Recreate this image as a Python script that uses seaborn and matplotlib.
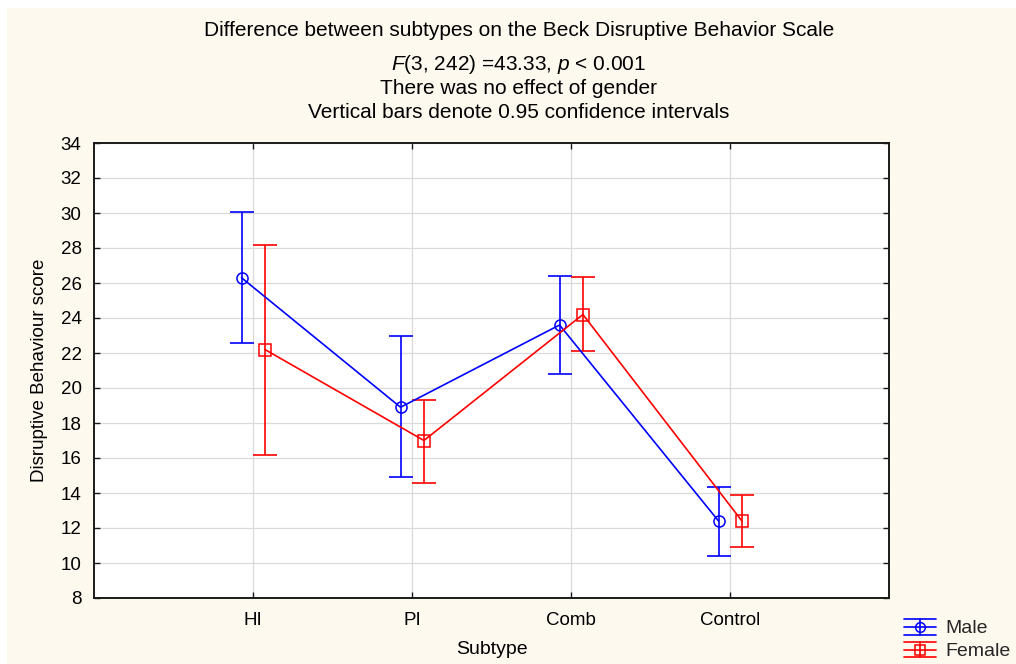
import matplotlib
matplotlib.use("Agg")
import matplotlib.pyplot as plt
import numpy as np
import pandas as pd
import seaborn as sns
from matplotlib.legend_handler import HandlerBase
from matplotlib.lines import Line2D
from matplotlib.patches import Rectangle

# Data: group means and 95% confidence limits
subtypes = ["HI", "PI", "Comb", "Control"]
male_mean = [26.3, 18.9, 23.6, 12.4]
male_low = [22.6, 14.9, 20.8, 10.4]
male_high = [30.05, 23.0, 26.4, 14.35]
female_mean = [22.2, 17.0, 24.2, 12.4]
female_low = [16.2, 14.6, 22.1, 10.9]
female_high = [28.2, 19.3, 26.35, 13.9]
y_ticks = list(range(8, 35, 2))

sns.set_theme(style="white")
plt.rcParams["font.family"] = ["Liberation Sans", "DejaVu Sans"]
plt.rcParams["mathtext.fontset"] = "custom"
plt.rcParams["mathtext.rm"] = "Liberation Sans"
plt.rcParams["mathtext.it"] = "Liberation Sans:italic"

BG = "#FEF9EE"
BLUE = "#0000FF"
RED = "#FF0000"

fig = plt.figure(figsize=(10.16, 6.64), dpi=100, facecolor="white")
fig.patches.append(Rectangle((7 / 1016, 0), 1 - 7 / 1016, 1 - 8 / 664,
                             transform=fig.transFigure, facecolor=BG,
                             edgecolor="none", zorder=-10))

ax = fig.add_axes([94 / 1016, 66 / 664, 795 / 1016, 455 / 664])
ax.set_facecolor("white")

offsets = {"Male": -0.072, "Female": 0.075}
rows = []
for g, m, lo, hi in (("Male", male_mean, male_low, male_high),
                     ("Female", female_mean, female_low, female_high)):
    for i, s in enumerate(subtypes):
        rows.append({"Gender": g, "Subtype": s, "x": i + offsets[g],
                     "score": m[i], "low": lo[i], "high": hi[i]})
df = pd.DataFrame(rows)

palette = {"Male": BLUE, "Female": RED}
markers = {"Male": "o", "Female": "s"}

for g in ["Male", "Female"]:
    d = df[df["Gender"] == g]
    ax.errorbar(d["x"], d["score"],
                yerr=[d["score"] - d["low"], d["high"] - d["score"]],
                fmt="none", ecolor=palette[g], elinewidth=1.2,
                capsize=8.5, capthick=1.2, zorder=3)
    sns.lineplot(data=d, x="x", y="score", color=palette[g], marker=markers[g],
                 markersize=8, markerfacecolor="none", markeredgecolor=palette[g],
                 markeredgewidth=1.1, linewidth=1.2, ax=ax, zorder=4,
                 legend=False, errorbar=None)

ax.set_xlim(-1, 4)
ax.set_ylim(8, 34)
ax.set_xticks(range(len(subtypes)))
ax.set_xticklabels(subtypes)
ax.set_yticks(y_ticks)
ax.grid(True, color="#DADADA", linewidth=0.9)
ax.set_axisbelow(True)
for sp in ax.spines.values():
    sp.set_visible(True)
    sp.set_color("#1A1A1A")
    sp.set_linewidth(1.4)
ax.tick_params(axis="both", which="both", direction="in", length=4, width=1,
               color="#1A1A1A", labelsize=13.5, labelcolor="black", pad=9,
               left=True, bottom=True, right=True, top=True)
ax.tick_params(axis="x", pad=10)

ax.set_xlabel("Subtype", fontsize=14, color="black", labelpad=9)
ax.set_ylabel("Disruptive Behaviour score", fontsize=13.5, color="black", labelpad=9)

cx = 519 / 1016
TS = 15
fig.text(cx, 1 - 31 / 664, "Difference between subtypes on the Beck Disruptive Behavior Scale",
         ha="center", va="center", fontsize=TS, color="black")
fig.text(cx, 1 - 64 / 664, r"$\mathit{F}$(3, 242) =43.33, $\mathit{p}$ < 0.001",
         ha="center", va="center", fontsize=TS, color="black")
fig.text(cx, 1 - 88 / 664, "There was no effect of gender",
         ha="center", va="center", fontsize=TS, color="black")
fig.text(cx, 1 - 113 / 664, "Vertical bars denote 0.95 confidence intervals",
         ha="center", va="center", fontsize=TS, color="black")


class CIGlyphHandler(HandlerBase):
    def create_artists(self, legend, orig_handle, xdescent, ydescent,
                       width, height, fontsize, trans):
        c = orig_handle.get_color()
        mk = orig_handle.get_marker()
        x0, x1 = -xdescent, -xdescent + width
        yb, yt = -ydescent, -ydescent + height
        ym = (yb + yt) / 2
        xm = (x0 + x1) / 2
        arts = []
        for y in (yb, ym, yt):
            arts.append(Line2D([x0, x1], [y, y], color=c, linewidth=1.2))
        arts.append(Line2D([xm, xm], [yb, yt], color=c, linewidth=1.2))
        arts.append(Line2D([xm], [ym], marker=mk, markersize=7,
                           markerfacecolor="none", markeredgecolor=c,
                           markeredgewidth=1.1, linestyle="none"))
        for a in arts:
            a.set_transform(trans)
        return arts


handles = [Line2D([], [], color=BLUE, marker="o"),
           Line2D([], [], color=RED, marker="s")]
fig.legend(handles, ["Male", "Female"], handler_map={Line2D: CIGlyphHandler()},
           loc="upper left", bbox_to_anchor=(904 / 1016, 1 - 619 / 664),
           frameon=False, fontsize=14, handlelength=1.65, handleheight=0.85,
           handletextpad=0.5, labelspacing=0.22, borderpad=0, borderaxespad=0)

fig.savefig("out.png", dpi=100, facecolor=fig.get_facecolor())
